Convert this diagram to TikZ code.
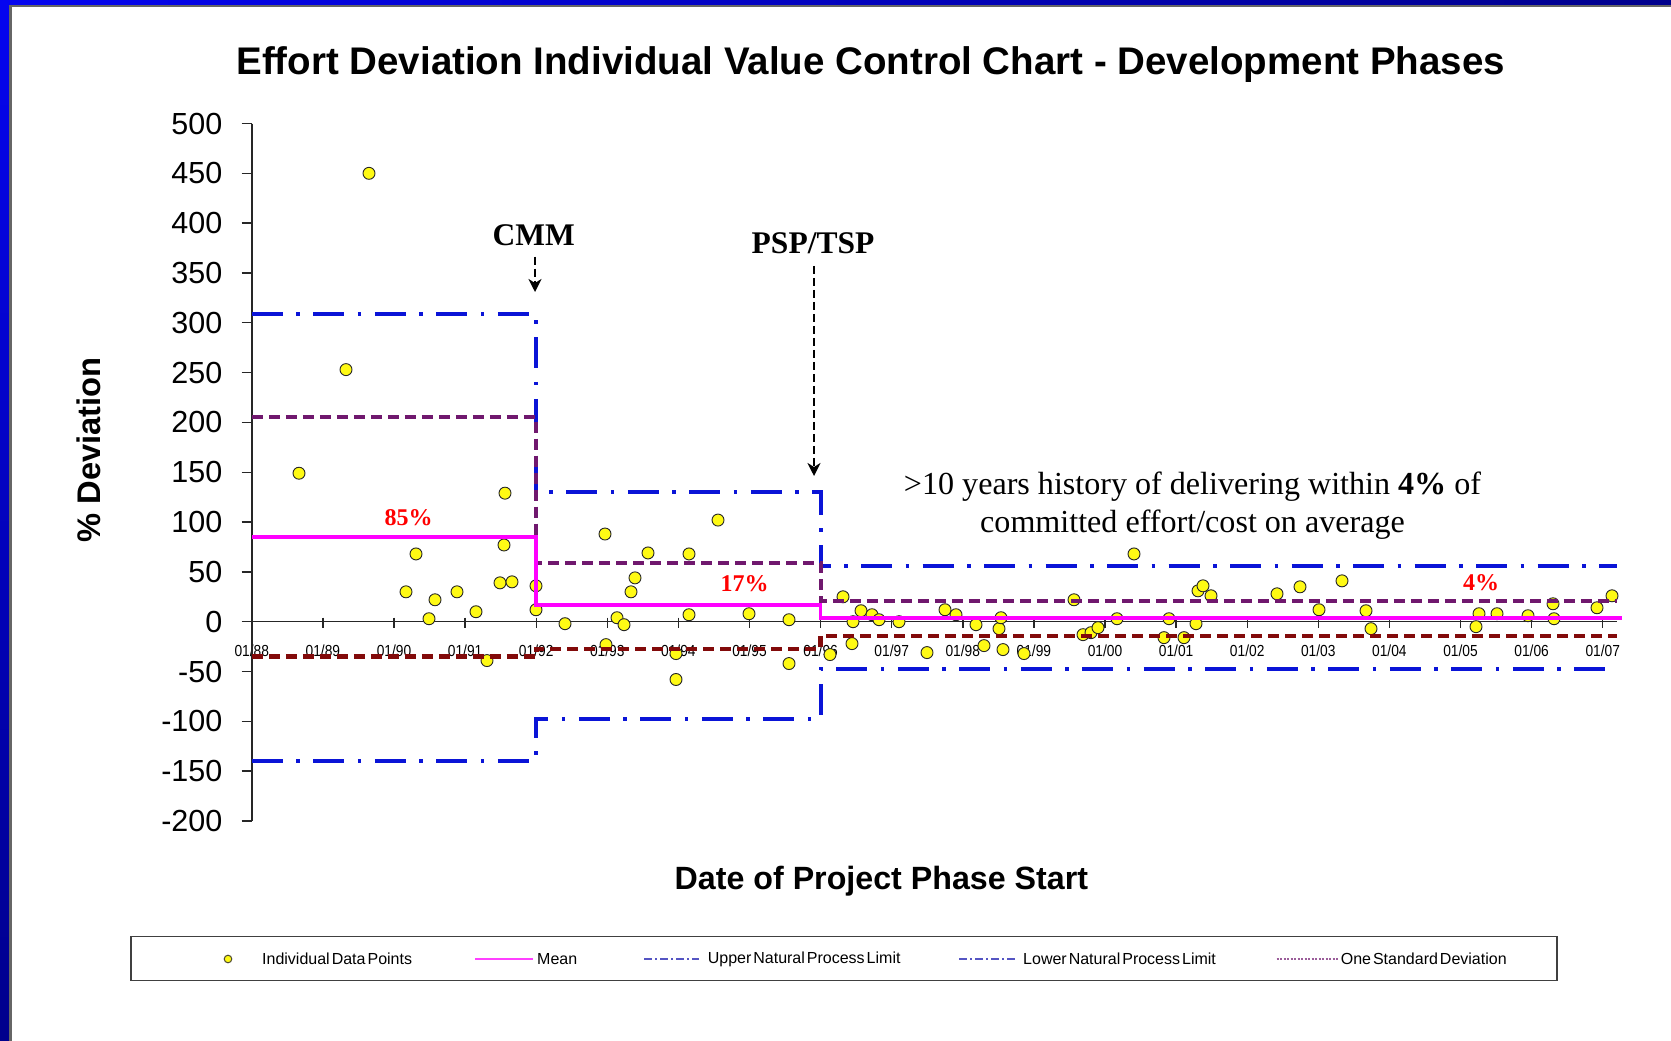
\documentclass[tikz,border=0pt]{standalone}
\usepackage{fontspec}
\setmainfont{Liberation Serif}
\setsansfont{Liberation Sans}
\usetikzlibrary{arrows.meta}

\definecolor{lineblue}{RGB}{10,20,215}
\definecolor{sdpurple}{RGB}{112,24,110}
\definecolor{sdred}{RGB}{130,10,10}
\definecolor{meanpink}{RGB}{255,0,255}
\definecolor{slideblue}{RGB}{5,5,240}
\definecolor{slidenavy}{RGB}{0,0,140}
\definecolor{dotyellow}{RGB}{255,250,20}
\definecolor{legblue}{RGB}{85,85,195}

% tight word spacing for legend entries
\newcommand\tightwords{\spaceskip=2pt\relax}

\tikzset{
  axisline/.style={draw=black!85, line width=1.4pt},
  ylab/.style={font=\sffamily\fontsize{30.5}{36}\selectfont, anchor=east, inner sep=0pt},
  xlab/.style={font=\sffamily\fontsize{16}{19}\selectfont, inner sep=0pt, xscale=0.86},
  meanline/.style={draw=meanpink, line width=3.6pt},
  limitline/.style={draw=lineblue, line width=4.2pt, dash pattern=on 31pt off 13.5pt on 3.5pt off 13.5pt},
  sdup/.style={draw=sdpurple, line width=4.2pt, dash pattern=on 11pt off 6pt},
  sdlow/.style={draw=sdred, line width=4.6pt, dash pattern=on 11pt off 6pt},
  datapt/.style={fill=dotyellow, draw=black!85, line width=0.9pt},
  pct/.style={text=red, font=\bfseries\fontsize{24}{28}\selectfont, inner sep=0pt},
  callout/.style={font=\bfseries\fontsize{31.5}{36}\selectfont, inner sep=0pt},
  annarrow/.style={draw=black, line width=2pt, dash pattern=on 8pt off 4pt,
    -{Stealth[length=13pt,width=13pt,inset=4pt]}},
  legtext/.style={font=\sffamily\fontsize{16}{19}\selectfont, anchor=west, inner sep=0pt},
  legdashdot/.style={draw=legblue, line width=1.5pt, dash pattern=on 8pt off 3pt on 2pt off 3pt},
}

\begin{document}
\begin{tikzpicture}[x=1pt, y=-1pt]
\useasboundingbox (0,0) rectangle (1671,1041);
\fill[white] (0,0) rectangle (1671,1041);

% slide frame: blue band on top and left, thin grey edge inside it
\shade[left color=slideblue, right color=slidenavy] (0,0) rectangle (1671,5.5);
\shade[top color=slideblue, bottom color=slidenavy] (0,0) rectangle (9,1041);
\draw[black!60, line width=2.2pt] (10.4,1041) -- (10.4,6.4) -- (1671,6.4);

% titles
\node[font=\sffamily\bfseries\fontsize{38.5}{46}\selectfont, inner sep=0pt] (title) at (870.7,65)
  {Effort Deviation Individual Value Control Chart - Development Phases};
\node[font=\sffamily\bfseries\fontsize{32.7}{38}\selectfont, inner sep=0pt, rotate=90] (ytitle) at (88.5,450) {\% Deviation};
\node[font=\sffamily\bfseries\fontsize{32.2}{38}\selectfont, inner sep=0pt] (xtitle) at (881.4,881) {Date of Project Phase Start};

% x tick labels (drawn below the limit lines)
\foreach \lab [count=\i from 0] in {88,89,90,91,92,93,94,95,96,97,98,99,00,01,02,03,04,05,06,07}
  \node[xlab] (xl\i) at (251.8+71.1*\i,651) {01/\lab};

% y tick labels
\foreach \v [count=\i] in {500,450,400,350,300,250,200,150,100,50,0,-50,-100,-150,-200}
  \node[ylab] (yl\i) at (222.5,621.7-0.9964*\v) {\v};

\begin{scope}[shift={(0,621.7)}, y=0.9964pt]
  % axes
  \draw[axisline] (251.8,500) -- (251.8,-200);
  \foreach \v in {-200,-150,...,500}
    \draw[axisline] (241.7,\v) -- (251.8,\v);
  \draw[axisline] (251.8,0) -- (1617,0);
  \foreach \i in {1,...,19}
    \draw[axisline] (251.8+71.1*\i,4) -- (251.8+71.1*\i,-6);

  % individual data points
  \foreach \px/\v in {
    299/149, 346/253, 369/450, 416/68, 406/30, 435/22, 429/3, 457/30, 476/10,
    487/-39, 500/39, 512/40, 505/129, 504/77, 536/36, 536/12,
    565/-2, 605/88, 617/4, 624/-3, 606/-23, 648/69, 635/44, 631/30, 689/68,
    689/7, 718/102, 676/-32, 676/-58, 749/8, 789/2, 789/-42,
    843/25, 830/-33, 853/0, 861/11, 872/7, 879/2, 899/0, 852/-22, 927/-31,
    945/12, 956/7, 976/-3, 984/-24, 999/-7, 1001/4, 1003/-28, 1024/-32,
    1074/22, 1083/-13, 1091/-11, 1098/-6, 1117/3, 1134/68, 1164/-16,
    1169/3, 1184/-16, 1196/-2, 1198/31, 1203/36, 1211/26, 1277/28, 1300/35,
    1319/12, 1342/41, 1366/11, 1371/-7, 1479/8, 1476/-5, 1497/8, 1528/6,
    1553/18, 1554/3, 1597/14, 1612/26}
    \filldraw[datapt] (\px,\v) circle[radius=6pt];

  % natural process limits
  \draw[limitline] (251.8,-139.7) -- (536.2,-139.7) -- (536.2,-97.6)
    -- (820.6,-97.6) -- (820.6,-47.5) -- (1617,-47.5);
  \draw[limitline] (251.8,308.5) -- (536.2,308.5) -- (536.2,130.5)
    -- (820.6,130.5) -- (820.6,56) -- (1617,56);
  % one standard deviation bands
  \draw[sdlow] (251.8,-35) -- (536.2,-35) -- (536.2,-27.4)
    -- (820.6,-27.4) -- (820.6,-14.4) -- (1617,-14.4);
  \draw[sdup] (251.8,205.4) -- (536.2,205.4) -- (536.2,59.2)
    -- (820.6,59.2) -- (820.6,20.8) -- (1617,20.8);
  % mean
  \draw[meanline] (251.8,85) -- (536.2,85) -- (536.2,17)
    -- (820.6,17) -- (820.6,4) -- (1622,4);
\end{scope}

% phase means
\node[pct] (p85) at (408.5,518) {85\%};
\node[pct] (p17) at (744.7,584) {17\%};
\node[pct] (p4) at (1481,583) {4\%};

% process change markers
\node[callout] (cmm) at (533.7,234.8) {CMM};
\coordinate (cmmtip) at (535,292);
\draw[annarrow, shorten <=11pt] (cmm.south -| cmmtip) -- (cmmtip);

\node[callout] (psp) at (813,243) {PSP/TSP};
\coordinate (psptip) at (814,476);
\draw[annarrow, shorten <=12pt] (psp.south -| psptip) -- (psptip);

\node[font=\fontsize{32.1}{37.5}\selectfont, align=center, inner sep=0pt] (note) at (1192.5,505.5)
  {>10 years history of delivering within \textbf{4\%} of\\committed effort/cost on average};

% legend
\draw[black!75, line width=1.5pt] (131,936.7) rectangle (1557,980.5);
\filldraw[fill=dotyellow, draw=black!60!olive, line width=1pt] (228,959) circle[radius=3.8pt];
\node[legtext] (lg1) at (262,959) {\tightwords Individual Data Points};
\draw[meanpink!75!white, line width=1.8pt] (475,959) -- (533,959);
\node[legtext] (lg2) at (537,959) {\tightwords Mean};
\draw[legdashdot] (644,959) -- (699,959);
\node[legtext] (lg3) at (707.6,959) {\tightwords Upper Natural Process Limit};
\draw[legdashdot] (959,959) -- (1015.6,959);
\node[legtext] (lg4) at (1023,959) {\tightwords Lower Natural Process Limit};
\draw[sdpurple!70!white, line width=1.3pt, dash pattern=on 2pt off 1.5pt] (1276.7,959) -- (1337.5,959);
\node[legtext] (lg5) at (1340.6,959) {\tightwords One Standard Deviation};
\end{tikzpicture}
\end{document}
